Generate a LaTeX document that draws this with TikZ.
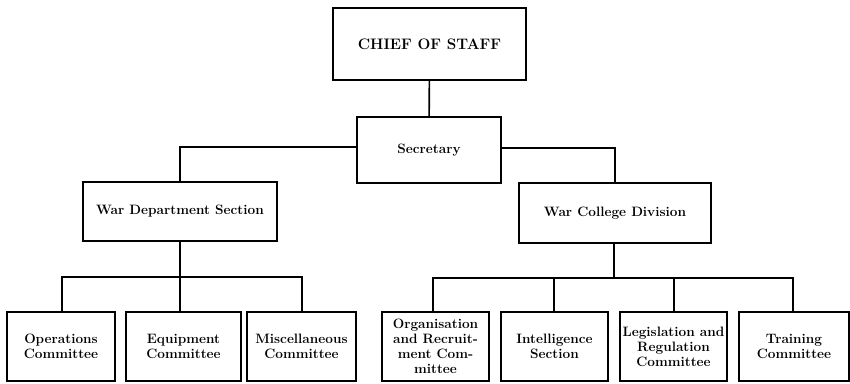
\documentclass[tikz,border=0pt]{standalone}
\tikzset{
  box/.style={draw, line width=1.1pt, inner sep=0pt, align=center,
    font=\fontsize{13.6}{15}\selectfont\bfseries},
  link/.style={line width=1.6pt}
}
\begin{document}
\begin{tikzpicture}[x=1pt, y=-1pt]
  \useasboundingbox (0,0) rectangle (850,383);

  \node[box, minimum width=193pt, minimum height=72pt, font=\fontsize{15.2}{17}\selectfont\bfseries] (chief) at (429.5,44) {CHIEF OF STAFF};
  \node[box, minimum width=144pt, minimum height=66pt] (sec) at (429,150) {Secretary};
  \node[box, minimum width=194pt, minimum height=59pt] (wds) at (180,211.5) {War Department Section};
  \node[box, minimum width=192pt, minimum height=60pt] (wcd) at (615,213) {War College Division};

  \foreach \x/\w/\n/\t in {61/108/c-1/{Operations\\Committee},
                           183.5/115/c-2/{Equipment\\Committee},
                           301.5/109/c-3/{Miscellaneous\\Committee}} {
    \node[box, minimum width=\w pt, minimum height=69pt] (\n) at (\x,346.5) {\t};
  }

  \foreach \x/\w/\n/\t in {435.5/107/d-1/{Organisation\\and Recruit-\\ment Com-\\mittee},
                           554.5/107/d-2/{Intelligence\\Section},
                           673.5/107/d-3/{Legislation and\\Regulation\\Committee},
                           794/110/d-4/{Training\\Committee}} {
    \node[box, minimum width=\w pt, minimum height=69pt] (\n) at (\x,346.5) {\t};
  }

  \draw[link] (chief) -- (sec);
  \draw[link] ([yshift=3pt]sec.west) -| (wds.north);
  \draw[link] ([yshift=2pt]sec.east) -| (wcd.north);

  \coordinate (wds-bar) at (180,277);
  \coordinate (wcd-bar) at (614,278);
  \draw[link] (wds) -- (wds-bar);
  \draw[link] (wcd.south -| wcd-bar) -- (wcd-bar);

  \foreach \x/\n in {62/c-1, 180/c-2, 302/c-3} {
    \draw[link] (wds-bar) -| (\x,0 |- \n.north);
  }
  \foreach \x/\n in {433/d-1, 554/d-2, 674/d-3, 793/d-4} {
    \draw[link] (wcd-bar) -| (\x,0 |- \n.north);
  }
\end{tikzpicture}
\end{document}
